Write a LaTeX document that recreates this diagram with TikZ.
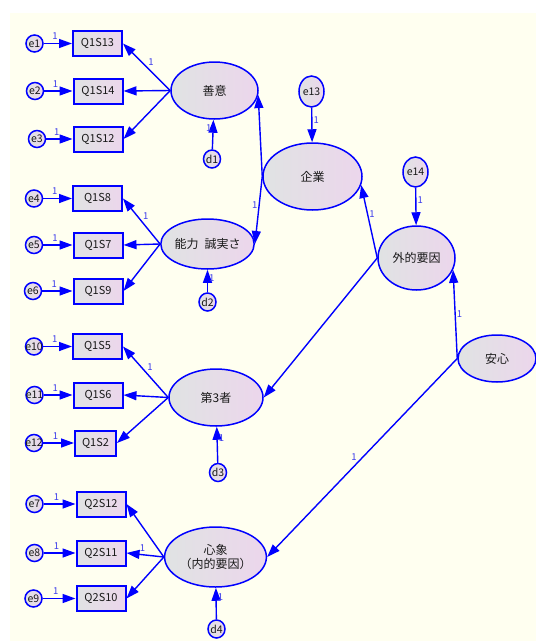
\documentclass[tikz,border=0pt]{standalone}
\usepackage{fontspec}
\setmainfont{Noto Sans CJK JP}
\usetikzlibrary{shapes.geometric,arrows.meta}

\definecolor{paper}{RGB}{255,255,240}
\definecolor{lineblue}{RGB}{0,0,255}
\definecolor{fillL}{RGB}{224,227,227}
\definecolor{fillR}{RGB}{236,214,236}
\definecolor{wtblue}{RGB}{60,60,235}
\definecolor{ink}{RGB}{25,25,25}

\begin{document}
\begin{tikzpicture}[x=1pt,y=-1pt,
  obs/.style={draw=lineblue,line width=2pt,left color=fillL,right color=fillR,
    minimum width=49pt,minimum height=25pt,inner sep=0pt,text=ink,
    font=\fontsize{11}{12}\selectfont},
  lat/.style={ellipse,draw=lineblue,line width=1.5pt,left color=fillL,right color=fillR,
    inner sep=0pt,text=ink,font=\fontsize{12}{14}\selectfont,align=center},
  err/.style={ellipse,draw=lineblue,line width=1.5pt,left color=fillL,right color=fillR,
    inner sep=0pt,minimum width=17pt,minimum height=17pt,text=ink,
    font=\fontsize{10.5}{12}\selectfont},
  conn/.style={draw=lineblue,line width=1.4pt,-{Triangle[length=13pt,width=9pt]}},
  wt/.style={font=\fontsize{9.5}{10}\selectfont,text=wtblue,inner sep=1pt}
]
\useasboundingbox (0,0) rectangle (536,641);
\fill[paper] (10,13) rectangle (536,641);

% observed variables
\node[obs] (q13) at (97.5,43.5) {Q1S13};
\node[obs] (q14) at (98,91) {Q1S14};
\node[obs] (q12) at (98,139) {Q1S12};
\node[obs] (q8) at (97.5,198.5) {Q1S8};
\node[obs] (q7) at (98,245) {Q1S7};
\node[obs] (q9) at (98,291) {Q1S9};
\node[obs] (q5) at (97.5,346.5) {Q1S5};
\node[obs] (q6) at (98,395) {Q1S6};
\node[obs,minimum width=41pt] (q2) at (95.5,443) {Q1S2};
\node[obs] (r12) at (101,504) {Q2S12};
\node[obs] (r11) at (101,553) {Q2S11};
\node[obs] (r10) at (101,598.5) {Q2S10};

% measurement errors
\node[err] (e1) at (34.5,43.5) {\makebox[0pt]{e1}};
\node[err] (e2) at (35,91) {\makebox[0pt]{e2}};
\node[err] (e3) at (37,139) {\makebox[0pt]{e3}};
\node[err] (e4) at (34,198.5) {\makebox[0pt]{e4}};
\node[err] (e5) at (34,245) {\makebox[0pt]{e5}};
\node[err] (e6) at (33,291) {\makebox[0pt]{e6}};
\node[err] (e10) at (34,346.5) {\makebox[0pt]{e10}};
\node[err] (e11) at (34.5,395) {\makebox[0pt]{e11}};
\node[err] (e12) at (34,443) {\makebox[0pt]{e12}};
\node[err] (e7) at (34.5,504) {\makebox[0pt]{e7}};
\node[err] (e8) at (34.5,553) {\makebox[0pt]{e8}};
\node[err] (e9) at (33.5,598.5) {\makebox[0pt]{e9}};

% latent variables
\node[lat,minimum width=87pt,minimum height=57pt] (zen) at (214.5,90.5) {善意};
\node[lat,minimum width=83pt,minimum height=50pt] (nor) at (207.5,244) {能力\hspace{0.5em}誠実さ};
\node[lat,minimum width=94pt,minimum height=57pt] (dai) at (216,397.5) {第3者};
\node[lat,minimum width=95pt,minimum height=60pt] (shin) at (215.5,557) {心象\\（内的要因）};
\node[lat,minimum width=99pt,minimum height=67pt] (kig) at (312.5,176.5) {企業};
\node[lat,minimum width=77pt,minimum height=64pt] (gai) at (416.5,258) {外的要因};
\node[lat,minimum width=78pt,minimum height=47pt] (ans) at (497,358.5) {安心};

% disturbances
\node[err,minimum height=18pt] (d1) at (212,159) {\makebox[0pt]{d1}};
\node[err,minimum height=18pt] (d2) at (207.5,302) {\makebox[0pt]{d2}};
\node[err,minimum height=18pt] (d3) at (218,472.5) {\makebox[0pt]{d3}};
\node[err,minimum height=18pt] (d4) at (216.5,629) {\makebox[0pt]{d4}};
\node[err,minimum width=25pt,minimum height=31pt] (e13) at (311.5,91.5) {e13};
\node[err,minimum width=25pt,minimum height=30pt] (e14) at (415.5,172) {e14};

% errors to indicators
\foreach \e/\q in {e1/q13,e2/q14,e3/q12,e4/q8,e5/q7,e6/q9,e10/q5,e11/q6,e12/q2,e7/r12,e8/r11,e9/r10}
  \draw[conn] (\e) -- (\q) node[wt,pos=0.4,above=2pt]{1};

% loadings
\draw[conn] (zen.west) -- (q13.east) node[wt,pos=0.5,above right]{1};
\draw[conn] (zen.west) -- (q14.east);
\draw[conn] (zen.west) -- (q12.east);
\draw[conn] (nor.west) -- (q8.east) node[wt,pos=0.5,above right]{1};
\draw[conn] (nor.west) -- (q7.east);
\draw[conn] (nor.west) -- (q9.east);
\draw[conn] (dai.west) -- (q5.east) node[wt,pos=0.5,above right]{1};
\draw[conn] (dai.west) -- (q6.east);
\draw[conn] (dai.west) -- (q2.east);
\draw[conn] (shin.west) -- (r12.east);
\draw[conn] (shin.west) -- (r11.east) node[wt,pos=0.57,above=2pt]{1};
\draw[conn] (shin.west) -- (r10.east);

% disturbances to latents
\draw[conn] (d1) -- (zen) node[wt,pos=0.7,left]{1};
\draw[conn] (d2) -- (nor) node[wt,pos=0.62,right]{1};
\draw[conn] (d3) -- (dai) node[wt,pos=0.68,right]{1};
\draw[conn] (d4) -- (shin) node[wt,pos=0.7,right]{1};
\draw[conn] (e13) -- (kig) node[wt,pos=0.36,right]{1};
\draw[conn] (e14) -- (gai) node[wt,pos=0.33,right]{1};

% structural paths
\draw[conn] (kig.west) -- (zen.-6);
\draw[conn] (kig.west) -- (nor.east) node[wt,pos=0.43,left]{1};
\draw[conn] (gai.west) -- (kig.-10) node[wt,pos=0.6,right]{1};
\draw[conn] (gai.west) -- (dai.east);
\draw[conn] (ans.west) -- (gai.-18) node[wt,pos=0.5,right]{1};
\draw[conn] (ans.west) -- (shin.east) node[wt,pos=0.52,above left]{1};
\end{tikzpicture}
\end{document}
